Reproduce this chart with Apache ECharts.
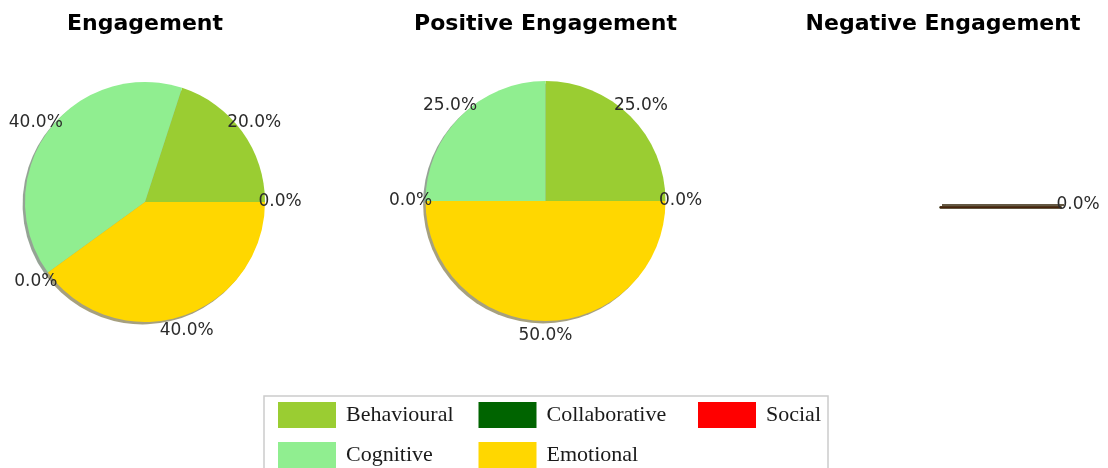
<!DOCTYPE html>
<html>
<head>
<meta charset="utf-8">
<style>
  html, body { margin: 0; padding: 0; background: #ffffff; }
  #chart { width: 1108px; height: 468px; }
</style>
<script src="https://cdn.jsdelivr.net/npm/echarts@6/dist/echarts.min.js"></script>
</head>
<body>
<div id="chart"></div>
<script>
// Engagement categories, in slice order (counter-clockwise from 3 o'clock)
const categories = ['Behavioural', 'Cognitive', 'Collaborative', 'Emotional', 'Social'];

// Share of each category per panel (percent)
const engagementValues = [20, 40, 0, 40, 0];
const positiveValues = [25, 25, 0, 50, 0];
const negativeValues = [0, 0, 0, 0, 0];

const panelTitles = ['Engagement', 'Positive Engagement', 'Negative Engagement'];

// Legend layout: columns of the boxed legend
const legendColumns = [['Behavioural', 'Cognitive'], ['Collaborative', 'Emotional'], ['Social']];

const palette = {
  Behavioural: '#9acd32',
  Cognitive: '#90ee90',
  Collaborative: '#006400',
  Emotional: '#ffd700',
  Social: '#ff0000'
};

const panels = [
  { values: engagementValues, cx: 145, cy: 202 },
  { values: positiveValues, cx: 545.5, cy: 201 },
  { values: negativeValues, cx: 943, cy: 205 }
];
const R = 120;
const SHADOW_DX = -2.4, SHADOW_DY = 2.4;

function shadowColor(hex) {
  const n = parseInt(hex.slice(1), 16);
  const r = Math.round(((n >> 16) & 255) * 0.3);
  const g = Math.round(((n >> 8) & 255) * 0.3);
  const b = Math.round((n & 255) * 0.3);
  return 'rgba(' + r + ',' + g + ',' + b + ',0.5)';
}

const series = [];
panels.forEach(function (p, i) {
  const total = p.values.reduce(function (a, b) { return a + b; }, 0);
  const allZero = total === 0;
  const common = {
    type: 'pie',
    startAngle: 0,
    clockwise: false,
    stillShowZeroSum: false,
    showEmptyCircle: false,
    avoidLabelOverlap: false,
    silent: true,
    animation: false,
    labelLine: { show: false }
  };
  // wedges
  series.push(Object.assign({}, common, {
    name: panelTitles[i],
    z: 3,
    center: [p.cx, p.cy],
    radius: [0, R],
    label: { show: false },
    data: categories.map(function (c, k) {
      return {
        name: c, value: p.values[k],
        itemStyle: {
          color: palette[c],
          borderWidth: allZero ? 2.2 : 0,
          borderColor: allZero ? '#645842' : palette[c]
        }
      };
    })
  }));
  // drop shadow under the wedges
  series.push(Object.assign({}, common, {
    name: panelTitles[i] + ' shadow',
    z: 1,
    center: [p.cx + SHADOW_DX, p.cy + SHADOW_DY],
    radius: [0, R],
    label: { show: false },
    data: categories.map(function (c, k) {
      return {
        name: c, value: p.values[k],
        itemStyle: {
          color: shadowColor(palette[c]),
          borderWidth: allZero ? 2.2 : 0,
          borderColor: shadowColor(palette[c])
        }
      };
    })
  }));
  // percentage labels on a transparent ring at 1.1 R
  series.push(Object.assign({}, common, {
    name: panelTitles[i] + ' labels',
    z: 4,
    center: [p.cx, p.cy],
    radius: [R, R * 1.2],
    itemStyle: { color: 'rgba(0,0,0,0)', borderWidth: 0 },
    label: {
      show: true,
      position: 'inside',
      fontFamily: 'DejaVu Sans',
      fontSize: 17,
      color: '#2b2b2b',
      formatter: function (params) {
        const pct = total ? params.value / total * 100 : 0;
        return pct.toFixed(1) + '%';
      }
    },
    data: categories.map(function (c, k) {
      return { name: c, value: p.values[k] };
    })
  }));
});

const legendLefts = [278, 478.5, 698];
const legends = legendColumns.map(function (col, i) {
  return {
    orient: 'vertical',
    left: legendLefts[i],
    top: 402,
    padding: 0,
    itemGap: 14,
    itemWidth: 58,
    itemHeight: 26,
    icon: 'rect',
    selectedMode: false,
    data: col,
    textStyle: {
      fontFamily: 'Liberation Serif',
      fontSize: 22,
      color: '#1a1a1a',
      padding: [0, 0, 0, 5]
    }
  };
});

const chart = echarts.init(document.getElementById('chart'), null, { renderer: 'canvas' });
chart.setOption({
  backgroundColor: '#ffffff',
  animation: false,
  title: panels.map(function (p, i) {
    return {
      text: panelTitles[i],
      left: p.cx,
      top: 13,
      padding: 0,
      textAlign: 'center',
      textStyle: { fontFamily: 'DejaVu Sans', fontWeight: 'bold', fontSize: 22, color: '#000000' }
    };
  }),
  legend: legends,
  graphic: [{
    type: 'rect',
    silent: true,
    shape: { x: 264, y: 396, width: 564, height: 90 },
    style: { fill: 'none', stroke: '#cccccc', lineWidth: 1.5 }
  }],
  series: series
});
</script>
</body>
</html>
